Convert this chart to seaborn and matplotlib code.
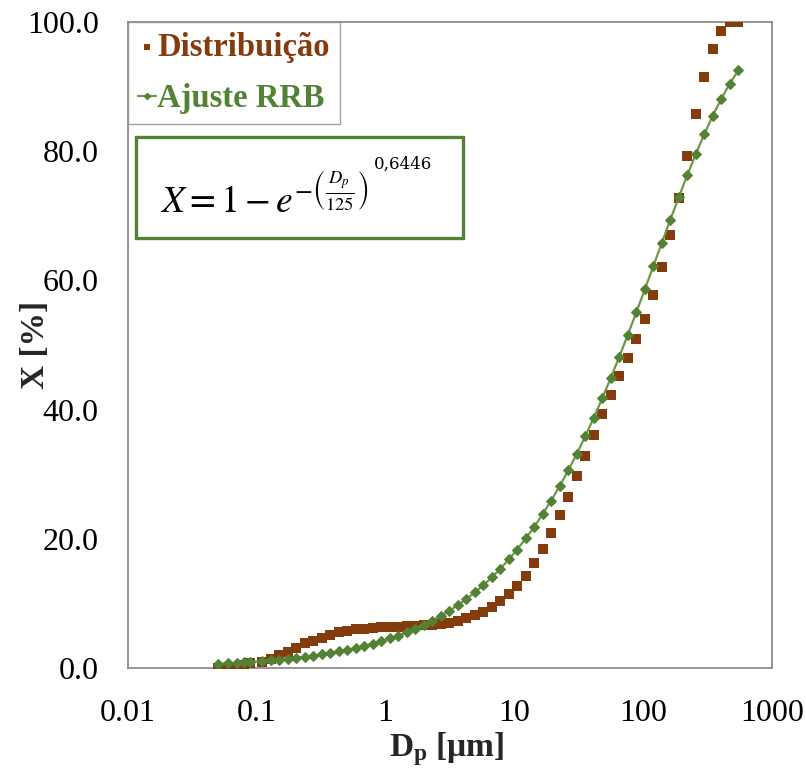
import numpy as np
import pandas as pd
import matplotlib
matplotlib.use("Agg")
import matplotlib.pyplot as plt
import seaborn as sns
from matplotlib.patches import Rectangle
from matplotlib.font_manager import FontProperties

# ---------------- data ----------------
dp = [0.0497, 0.0601, 0.0698, 0.0800, 0.0886,
      0.110, 0.129, 0.150, 0.174, 0.203, 0.236, 0.275, 0.320, 0.372, 0.433,
      0.504, 0.587, 0.683, 0.795, 0.926, 1.08, 1.25, 1.46, 1.70, 1.98,
      2.30, 2.68, 3.12, 3.64, 4.23, 4.93, 5.73, 6.68, 7.77, 9.05,
      10.5, 12.3, 14.3, 16.6, 19.3, 22.5, 26.2, 30.5, 35.5, 41.3,
      48.1, 56.0, 65.2, 75.9, 88.4, 103, 120, 139, 162, 189,
      220, 256, 298, 347, 404, 470, 547]

distribuicao = [0.0, 0.05, 0.2, 0.45, 0.7,
                1.0, 1.4, 2.0, 2.5, 3.1, 3.8, 4.2, 4.6, 5.1, 5.5,
                5.8, 6.0, 6.1, 6.2, 6.3, 6.4, 6.4, 6.45, 6.5, 6.6,
                6.7, 6.8, 6.9, 7.3, 7.8, 8.2, 8.6, 9.4, 10.3, 11.4,
                12.7, 14.3, 16.3, 18.4, 20.9, 23.7, 26.5, 29.7, 32.8, 36.1,
                39.3, 42.3, 45.2, 48.0, 50.9, 54.1, 57.8, 62.0, 67.0, 72.8,
                79.3, 85.8, 91.5, 95.8, 98.6, 100.0, 100.0]

ajuste_rrb = [0.64, 0.72, 0.80, 0.87, 0.93,
              1.07, 1.18, 1.30, 1.43, 1.58, 1.74, 1.92, 2.11, 2.33, 2.56,
              2.82, 3.11, 3.42, 3.77, 4.15, 4.57, 5.01, 5.52, 6.07, 6.68,
              7.33, 8.06, 8.85, 9.73, 10.66, 11.70, 12.81, 14.04, 15.37, 16.81,
              18.34, 20.10, 21.90, 23.83, 25.92, 28.19, 30.59, 33.16, 35.87, 38.72,
              41.75, 44.90, 48.18, 51.57, 55.07, 58.63, 62.24, 65.73, 69.33, 72.89,
              76.30, 79.56, 82.63, 85.50, 88.12, 90.45, 92.50]

series_names = ["Distribuição", "Ajuste RRB"]
x_ticks = [0.01, 0.1, 1, 10, 100, 1000]
x_tick_labels = ["0.01", "0.1", "1", "10", "100", "1000"]
y_ticks = [0, 20, 40, 60, 80, 100]
y_tick_labels = ["0.0", "20.0", "40.0", "60.0", "80.0", "100.0"]
equation_main = r"$X = 1 - e^{-\left(\frac{D_p}{125}\right)}$"
equation_exp = "0,6446"

# ---------------- style ----------------
sns.set_theme(style="white")
plt.rcParams["font.family"] = ["Liberation Serif", "DejaVu Serif"]
plt.rcParams["mathtext.fontset"] = "custom"
plt.rcParams["mathtext.rm"] = "Liberation Serif"
plt.rcParams["mathtext.it"] = "Liberation Serif:italic"
plt.rcParams["mathtext.bf"] = "Liberation Serif:bold"

brown = "#843C0C"
green = "#548235"
green_line = "#6A9A48"
frame_gray = "#8C8C8C"

df = pd.DataFrame({"Dp": dp, series_names[0]: distribuicao, series_names[1]: ajuste_rrb})

fig = plt.figure(figsize=(8.06, 7.69), dpi=100)
ax = fig.add_axes([128 / 806, 1 - 668 / 769, 644 / 806, 646 / 769])

sns.scatterplot(data=df, x="Dp", y=series_names[0], marker="s", s=44, color=brown,
                linewidth=0, label=series_names[0], ax=ax, zorder=3)
sns.lineplot(data=df, x="Dp", y=series_names[1], marker="D", markersize=5.5,
             color=green_line, markerfacecolor=green, markeredgecolor=green,
             linewidth=1.6, label=series_names[1], ax=ax, zorder=4)

ax.set_xscale("log")
ax.set_xlim(0.01, 1000)
ax.set_ylim(0, 100)
ax.set_xticks(x_ticks)
ax.set_xticklabels(x_tick_labels)
ax.set_yticks(y_ticks)
ax.set_yticklabels(y_tick_labels)
ax.xaxis.set_minor_locator(matplotlib.ticker.NullLocator())
ax.tick_params(axis="both", length=0, labelsize=23, colors="black")
ax.tick_params(axis="x", pad=22)
ax.tick_params(axis="y", pad=21)

for sp in ax.spines.values():
    sp.set_visible(True)
    sp.set_color(frame_gray)
    sp.set_linewidth(1.3)

ax.set_xlabel(r"$\mathbf{D_p}$ [μm]", fontsize=24, fontweight="bold", va="center")
ax.xaxis.set_label_coords(0.495, -0.125)
ax.set_ylabel("X [%]", fontsize=24, fontweight="bold", va="center")
ax.yaxis.set_label_coords(-0.144, 0.5)

# legend
leg = ax.legend(loc="upper left", bbox_to_anchor=(0, 1), borderaxespad=0,
                frameon=True, fancybox=False, edgecolor=frame_gray,
                prop=FontProperties(family="Liberation Serif", weight="bold", size=23.5),
                handlelength=0.55, handletextpad=0.05, labelspacing=0.62,
                borderpad=0.3, markerscale=0.6)
leg.get_frame().set_linewidth(1.0)
for txt, col in zip(leg.get_texts(), [brown, green]):
    txt.set_color(col)

# equation box
ax.add_patch(Rectangle((8 / 644, (668 - 238) / 646), 327 / 644, 101 / 646,
                       transform=ax.transAxes, facecolor="white", edgecolor=green,
                       linewidth=2.4, zorder=5))
eq = ax.text(32 / 644, (668 - 213) / 646, equation_main, transform=ax.transAxes,
             fontsize=27, ha="left", va="baseline", color="black", zorder=6,
             math_fontfamily="stix")
ax.annotate(equation_exp, xy=(1, 1), xycoords=eq, xytext=(4, 8),
            textcoords="offset points", ha="left", va="center", fontsize=12,
            family="DejaVu Serif", color="black", zorder=6)

fig.savefig("out.png", dpi=100)
